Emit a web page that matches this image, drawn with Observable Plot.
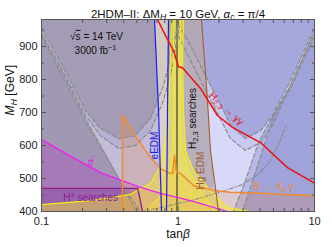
<!DOCTYPE html>
<html><head><meta charset="utf-8">
<script src="https://cdn.jsdelivr.net/npm/d3@7"></script>
<script src="https://cdn.jsdelivr.net/npm/@observablehq/plot@0.6"></script>
<style>body{margin:0;background:#fff}svg{display:block}</style>
</head><body><div id="chart"></div>
<script>
// ---- data: [tanβ, M_H (GeV)] ----
const tanbTicks = [0.1, 1, 10];
const tanbMinorTicks = [0.2,0.3,0.4,0.5,0.6,0.7,0.8,0.9,2,3,4,5,6,7,8,9];
const mhTicks = [400, 500, 600, 700, 800, 900];
const mhMinorTicks = [450, 550, 650, 750, 850, 950];

// H2,3 searches contours (gray dashed)
const h23C1 = [[0.1,955],[0.138,852],[0.21,706],[0.27,652],[0.367,621],[0.488,630],[0.629,682],[0.783,782],[0.912,888],[0.992,964],[1.0,992],[1.009,964],[1.235,903],[1.591,812],[1.981,736],[2.424,661],[3.123,621],[4.021,645],[4.925,691],[6.67,797],[9.83,948],[10,952]];
const h23C2 = [[0.1,942],[0.138,839],[0.21,691],[0.27,630],[0.367,591],[0.488,600],[0.629,645],[0.783,736],[0.912,842],[0.992,935],[1.0,992],[1.009,930],[1.235,858],[1.591,767],[1.981,691],[2.424,621],[3.123,585],[4.021,609],[4.925,661],[6.67,782],[9.83,939],[10,943]];
const h23C3 = [[0.1,936],[0.138,833],[0.21,682],[0.27,600],[0.348,518],[0.449,433],[0.5,400],[0.6,360],[1,300],[2,360],[2.55,400],[3.123,494],[3.888,609],[4.762,676],[6.67,782],[9.83,933],[10,936]];
const h23C4 = [[0.1,930],[0.138,821],[0.21,670],[0.295,570],[0.4125,464],[0.531,400],[0.65,350],[1,300],[2.4,350],[2.97,400],[3.514,494],[4.159,585],[5.009,691],[6.67,773],[9.83,924],[10,927]];
const h23C5 = [[0.55,400],[0.745,412],[1.3,435],[2.0,458],[2.9,480],[3.8,510],[4.6,545],[5.4,600],[6.2,660]];

// H2,3 -> γγ (red)
const ggLine = [[0.69,990],[0.708,982],[0.81,933],[0.927,888],[1.009,839],[1.079,836],[1.462,773],[1.947,691],[2.507,655],[4.021,609],[6.341,533],[10,486]];
// Hg EDM (brown)
const hgLine = [[1.47,1000],[1.486,982],[1.564,858],[1.645,736],[1.73,585],[1.851,494],[1.981,400],[2.0,385]];
// eEDM (blue)
const eedmLeft = [[0.673,982],[0.72,706],[0.757,400]];
const eedmRight = [[0.852,982],[0.838,706],[0.824,400]];
// yellow constraint
const yelLeft = [[0.896,982],[0.881,858],[0.852,706],[0.81,615],[0.745,539],[0.629,485],[0.449,452],[0.229,433],[0.1,421]];
const yelRight = [[1.097,982],[1.079,858],[1.097,706],[1.135,585],[1.299,524],[1.73,464],[2.3,412],[3.4,400]];
const yelInLeft = [[0.927,982],[0.927,676],[0.912,585],[0.852,509],[0.745,448],[0.578,400]];
const yelInRight = [[1.043,982],[1.043,676],[1.079,585],[1.194,524],[1.462,464],[1.883,400]];
const oliveBand = [0.975, 1.008];
// B -> Xs γ (orange)
const bsgLine = [[0.392,400],[0.392,691],[0.472,636],[0.629,564],[0.745,530],[0.881,515],[0.912,515],[0.943,570],[0.975,518],[1.043,515],[1.299,479],[1.82,464],[2.424,458],[4.021,455],[10,448]];
// t tbar (magenta)
const ttLine = [[0.1,618],[0.15,576],[0.2705,518],[0.531,473],[0.745,455],[1.235,433],[2.304,400]];
// H± searches (purple)
const hpmLine = [[0.1,470],[0.505,470],[0.52,450],[0.549,400]];

// ---- helpers ----
const TOP = 1010, BOT = 370;
const px = d => d[0], py = d => d[1];
const poly = (pts, fill, op) => Plot.line(pts, {x: px, y: py, fill, fillOpacity: op, stroke: "none", clip: true});
const ln = (pts, stroke, w, extra = {}) => Plot.line(pts, {x: px, y: py, stroke, strokeWidth: w, clip: true, ...extra});
const above = c => c.concat([[10, TOP], [0.1, TOP]]);
const outLeft = c => { const l = c.filter(d => d[0] < 1); return l.concat([[l[l.length - 1][0], BOT], [0.1, BOT]]); };
const outRight = c => { const r = c.filter(d => d[0] > 1); return r.concat([[10, BOT], [r[0][0], BOT]]); };

const leftBase = [[0.1, TOP]].concat(hgLine, [[0.1, BOT]]);
const hgCross = 1.591;
const brownOver = h23C1.filter(d => d[0] <= hgCross).concat(hgLine.filter(d => d[1] >= 812).reverse(), [[0.1, TOP]]);
const strip = [[1.097, TOP]].concat(yelRight.filter(d => d[1] >= 464), hgLine.filter(d => d[1] >= 494).reverse());
const eedmBand = eedmLeft.concat(eedmRight.slice().reverse());
const ttFill = ttLine.concat([[2.304, BOT], [0.1, BOT]]);
const hpmFill = hpmLine.concat([[0.549, BOT], [0.1, BOT]]);
const bsgFill = bsgLine.concat([[10, BOT], [0.392, BOT]]);
const yelFill = [[0.896, TOP]].concat(yelLeft, [[0.1, BOT], [3.4, BOT]], yelRight.slice().reverse(), [[1.097, TOP]]);
const yelInFill = [[0.927, TOP]].concat(yelInLeft, [[0.578, BOT], [1.883, BOT]], yelInRight.slice().reverse(), [[1.043, TOP]]);
const ov = "#5a5fb4";
const dash = {strokeDasharray: "4,2.5"};
const gray = "#8c8c8c";
const F = "Liberation Sans, Arial, sans-serif";

const svg = Plot.plot({
  width: 332, height: 247,
  marginLeft: 41, marginRight: 18, marginTop: 19, marginBottom: 36,
  x: {type: "log", domain: [0.1, 10]},
  y: {domain: [400, 982]},
  style: {fontFamily: F, fontSize: "11px", background: "white", color: "#222"},
  marks: [
    Plot.frame({fill: "#d8d8f8", stroke: "none"}),
    poly(leftBase, "#c4bcd9", 1),
    poly(outLeft(h23C4), ov, 0.255), poly(outRight(h23C4), ov, 0.255),
    poly(outLeft(h23C3), ov, 0.255), poly(outRight(h23C3), ov, 0.255),
    poly(above(h23C2), ov, 0.127),
    poly(above(h23C1), ov, 0.31),
    poly(brownOver, "#c8aa78", 0.25),
    poly(outLeft(h23C4), "#c8aa78", 0.25),
    poly(strip, "#b4aab7", 0.8),
    poly(eedmBand, "#e2d8c8", 0.75),
    poly(ttFill, "#b020c0", 0.25),
    poly(hpmFill, "#7a1a8a", 0.25),
    poly(bsgFill, "#f08020", 0.18),
    poly(yelFill, "#f8ec30", 0.45),
    poly(yelInFill, "#f8ec30", 0.35),
    Plot.rectX([oliveBand], {x1: d => d[0], x2: d => d[1], fill: "#6e6a3c", fillOpacity: 0.85, clip: true}),
    // contours
    ln(h23C1, gray, 1.2, dash), ln(h23C2, gray, 1.2, dash), ln(h23C3, gray, 1.2, dash), ln(h23C4, gray, 1.2, dash),
    ln(h23C5, gray, 1.1, {strokeDasharray: "4,2,1,2"}),
    ln(yelLeft, "#f4ee10", 1.2), ln(yelRight, "#f4ee10", 1.2),
    ln(yelInLeft, "#f4ee10", 1), ln(yelInRight, "#f4ee10", 1),
    ln(ttLine, "#ee22ee", 1.3),
    ln(hpmLine, "#8a1f88", 1.3),
    ln(bsgLine, "#f38b2a", 1.5),
    ln(eedmLeft, "#1a1aff", 1.2), ln(eedmRight, "#1a1aff", 1.2),
    ln(hgLine, "#a0622a", 1.1),
    ln(ggLine, "#ee1111", 1.5),
    // labels
    Plot.text(["SQ"], {x: () => 0.253, y: () => 930, text: d => d, fontSize: 10, fill: "#111"}),
    Plot.text(["FB"], {x: () => 0.249, y: () => 888, text: d => d, fontSize: 10, fill: "#111"}),
    Plot.text(["H23gg"], {x: () => 2.266, y: () => 712, text: d => d, fontSize: 10, fill: "#e8141e", rotate: 43}),
    Plot.text(["H23s"], {x: () => 1.277, y: () => 682, text: d => d, fontSize: 10, fill: "#111", rotate: -90}),
    Plot.text(["Hg EDM"], {x: () => 1.462, y: () => 524, text: d => d, fontSize: 10, fill: "#a0602a", rotate: -90}),
    Plot.text(["eEDM"], {x: () => 0.673, y: () => 600, text: d => d, fontSize: 10, fill: "#2020e0", rotate: -90}),
    Plot.text(["TT"], {x: () => 0.229, y: () => 549, text: d => d, fontSize: 10, fill: "#e020e0"}),
    Plot.text(["HPM"], {x: () => 0.229, y: () => 442, text: d => d, fontSize: 10, fill: "#8a2090"}),
    Plot.text(["BXs"], {x: () => 5.009, y: () => 476, text: d => d, fontSize: 10, fill: "#f08a30"}),
    Plot.text(["T1"], {frameAnchor: "top", dy: -10, text: d => d, fontSize: 11.5, fill: "#111"}),
    Plot.text(["XL"], {frameAnchor: "bottom", dy: 26, text: d => d, fontSize: 12, fill: "#111"}),
    Plot.text(["YL"], {frameAnchor: "left", dx: -31, rotate: -90, text: d => d, fontSize: 12, fill: "#111"}),
    // axes
    Plot.axisX({ticks: tanbTicks, anchor: "bottom", tickSize: 0, tickPadding: 6, tickFormat: d3.format("~g"), fontSize: 11, label: null}),
    Plot.axisX({ticks: tanbTicks, anchor: "bottom", tickSize: -5, tickFormat: () => "", label: null, stroke: "#555"}),
    Plot.axisX({ticks: tanbMinorTicks, anchor: "bottom", tickSize: -3, tickFormat: () => "", label: null, stroke: "#555"}),
    Plot.axisX({ticks: tanbTicks, anchor: "top", tickSize: -5, tickFormat: () => "", label: null, stroke: "#555"}),
    Plot.axisX({ticks: tanbMinorTicks, anchor: "top", tickSize: -3, tickFormat: () => "", label: null, stroke: "#555"}),
    Plot.axisY({ticks: mhTicks, anchor: "left", tickSize: 0, tickPadding: 4, fontSize: 11, label: null}),
    Plot.axisY({ticks: mhTicks, anchor: "left", tickSize: -5, tickFormat: () => "", label: null, stroke: "#555"}),
    Plot.axisY({ticks: mhMinorTicks, anchor: "left", tickSize: -3, tickFormat: () => "", label: null, stroke: "#555"}),
    Plot.axisY({ticks: mhTicks, anchor: "right", tickSize: -5, tickFormat: () => "", label: null, stroke: "#555"}),
    Plot.axisY({ticks: mhMinorTicks, anchor: "right", tickSize: -3, tickFormat: () => "", label: null, stroke: "#555"}),
    Plot.frame({stroke: "#555", strokeWidth: 1})
  ]
});

function rich(key, parts) {
  d3.select(svg).selectAll("text").filter(function() { return this.textContent === key; }).each(function() {
    const t = d3.select(this); t.text(null);
    let shift = 0;
    for (const p of parts) {
      const [s, o] = typeof p === "string" ? [p, {}] : p;
      const want = o.sub ? 2.5 : o.sup ? -4 : 0;
      const ts = t.append("tspan").text(s);
      if (want !== shift) { ts.attr("dy", want - shift); shift = want; }
      if (o.sub || o.sup) ts.attr("font-size", "75%");
      if (o.i) ts.attr("font-style", "italic");
      if (o.over) ts.attr("text-decoration", "overline");
    }
  });
}
rich("T1", ["2HDM–II: ΔM", ["H", {sub: true, i: true}], " = 10 GeV, ", ["α", {i: true}], ["c", {sub: true}], " = π/4"]);
rich("YL", [["M", {i: true}], ["H", {sub: true, i: true}], " [GeV]"]);
rich("XL", ["tan", ["β", {i: true}]]);
rich("H23gg", ["H", ["2,3", {sub: true}], " → γγ"]);
rich("H23s", ["H", ["2,3", {sub: true}], " searches"]);
rich("BXs", ["B → X", ["s", {sub: true}], " γ"]);
rich("FB", ["3000 fb", ["−1", {sup: true}]]);
rich("HPM", ["H", ["±", {sup: true}], " searches"]);
rich("TT", [["tt̄", {i: true}]]);
rich("SQ", ["√", ["s", {over: true}], " = 14 TeV"]);
document.getElementById("chart").append(svg);
</script></body></html>
